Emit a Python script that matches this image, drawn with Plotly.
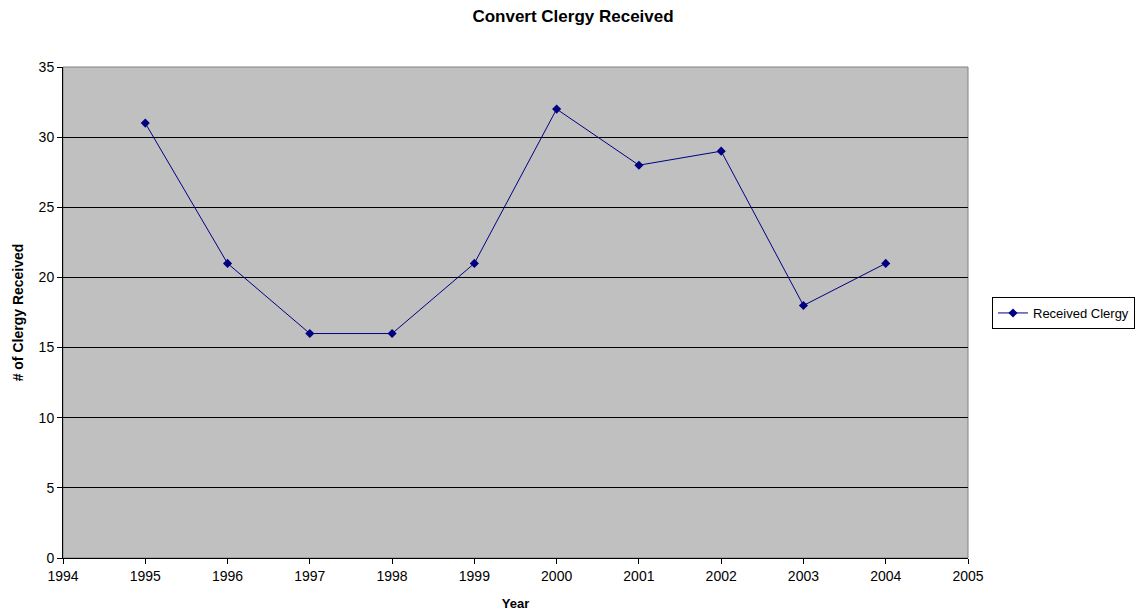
import plotly.graph_objects as go

years = [1995, 1996, 1997, 1998, 1999, 2000, 2001, 2002, 2003, 2004]
received = [31, 21, 16, 16, 21, 32, 28, 29, 18, 21]

fig = go.Figure()
fig.add_trace(go.Scatter(
    x=years, y=received, mode="lines+markers", name="Received Clergy",
    line=dict(color="#000080", width=1),
    marker=dict(symbol="diamond", size=7, color="#000080"),
))

font = "Liberation Sans, Arial, sans-serif"
W, H = 1140, 605
fig.update_layout(
    width=W, height=H,
    margin=dict(l=55, r=180, t=59, b=55, autoexpand=False),
    paper_bgcolor="white", plot_bgcolor="#C0C0C0",
    font=dict(family=font, size=14, color="black"),
    title=dict(text="<b>Convert Clergy Received</b>", x=565 / W, xanchor="center",
               y=1 - 8 / H, yanchor="middle", font=dict(size=17)),
    showlegend=True,
    legend=dict(x=(984 - 55) / 905, xanchor="left", y=0.499, yanchor="middle",
                bordercolor="black", borderwidth=1, bgcolor="white",
                font=dict(size=13), tracegroupgap=0, itemwidth=30),
    xaxis=dict(range=[1994, 2005], dtick=1, tick0=1994, showgrid=False, zeroline=False,
               showline=True, linecolor="black", linewidth=1, mirror=False,
               ticks="outside", ticklen=5, tickcolor="black", automargin=False,
               title=dict(text="<b>Year</b>", font=dict(size=13), standoff=16)),
    yaxis=dict(range=[0, 35], dtick=5, showgrid=True, gridcolor="black", gridwidth=1,
               zeroline=False, showline=True, linecolor="black", linewidth=1,
               ticks="outside", ticklen=5, tickcolor="black", automargin=False,
               title=dict(text="<b># of Clergy Received</b>", font=dict(size=14), standoff=11)),
)
fig.add_shape(type="rect", xref="paper", yref="paper", x0=0, y0=0, x1=1, y1=1,
              line=dict(color="#808080", width=1), layer="below")
fig.write_html("out.html")
